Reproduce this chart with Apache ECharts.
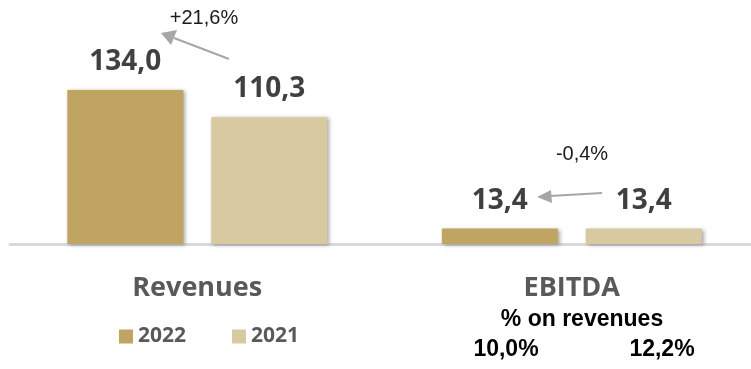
<!DOCTYPE html>
<html><head><meta charset="utf-8">
<script src="https://cdn.jsdelivr.net/npm/echarts@6/dist/echarts.min.js"></script>
<style>html,body{margin:0;padding:0;background:#fff}#c{width:751px;height:369px}</style>
</head><body><div id="c"></div>
<script>
const categories = ['Revenues', 'EBITDA'];
const years = ['2022', '2021'];
const values2022 = [134.0, 13.4];
const values2021 = [110.3, 13.4];
const changes = ['+21,6%', '-0,4%'];
const marginTitle = '% on revenues';
const margins = ['10,0%', '12,2%'];

const fmt = v => v.toFixed(1).replace('.', ',');
const chart = echarts.init(document.getElementById('c'));
const barShadow = {shadowBlur: 4, shadowColor: 'rgba(0,0,0,0.35)', shadowOffsetX: 2, shadowOffsetY: 1};
const labelStyle = {show: true, position: 'top', distance: 14, fontFamily: 'Open Sans', fontWeight: 'bold', fontSize: 28, color: '#404040', formatter: p => fmt(p.value)};
const arrowStyle = {stroke: '#a6a6a6', lineWidth: 2};
const arial = (sz, bold) => ({fontFamily: 'Liberation Sans', fontSize: sz, fontWeight: bold ? 'bold' : 'normal', fill: bold ? '#000' : '#1a1a1a', align: 'center', verticalAlign: 'middle'});

chart.setOption({
  animation: false,
  grid: {left: 10, width: 749, top: 14, bottom: 125, outerBoundsMode: 'none'},
  legend: {
    data: years, left: 119, top: 326, padding: 0, itemWidth: 14, itemHeight: 14, itemGap: 46,
    icon: 'rect',
    textStyle: {fontFamily: 'Open Sans', fontWeight: 'bold', fontSize: 21, color: '#595959', padding: [0, 0, 0, 0]}
  },
  xAxis: {
    type: 'category', data: categories,
    axisLine: {lineStyle: {color: '#d9d9d9', width: 3}},
    axisTick: {show: false},
    axisLabel: {fontFamily: 'Open Sans', fontWeight: 'bold', fontSize: 27, color: '#595959', margin: 31}
  },
  yAxis: {type: 'value', min: 0, max: 200, show: false, splitLine: {show: false}},
  series: [
    {name: years[0], type: 'bar', data: values2022, barWidth: 116, barGap: '24%',
     itemStyle: Object.assign({color: '#c0a462'}, barShadow), label: labelStyle},
    {name: years[1], type: 'bar', data: values2021, barWidth: 116,
     itemStyle: Object.assign({color: '#d9c9a0'}, barShadow), label: labelStyle}
  ],
  graphic: [
    {type: 'text', x: 204, y: 18, style: Object.assign({text: changes[0]}, arial(20, false))},
    {type: 'text', x: 582, y: 154, style: Object.assign({text: changes[1]}, arial(20, false))},
    {type: 'line', shape: {x1: 229, y1: 59, x2: 174, y2: 38}, style: arrowStyle},
    {type: 'polygon', shape: {points: [[161, 33], [177, 30], [171, 45]]}, style: {fill: '#a6a6a6'}},
    {type: 'line', shape: {x1: 602, y1: 193, x2: 550, y2: 196}, style: arrowStyle},
    {type: 'polygon', shape: {points: [[537, 197], [551, 190], [552, 203]]}, style: {fill: '#a6a6a6'}},
    {type: 'text', x: 582, y: 320, style: Object.assign({text: marginTitle}, arial(23, true))},
    {type: 'text', x: 506, y: 350, style: Object.assign({text: margins[0]}, arial(23, true))},
    {type: 'text', x: 662, y: 350, style: Object.assign({text: margins[1]}, arial(23, true))}
  ]
});
</script></body></html>
